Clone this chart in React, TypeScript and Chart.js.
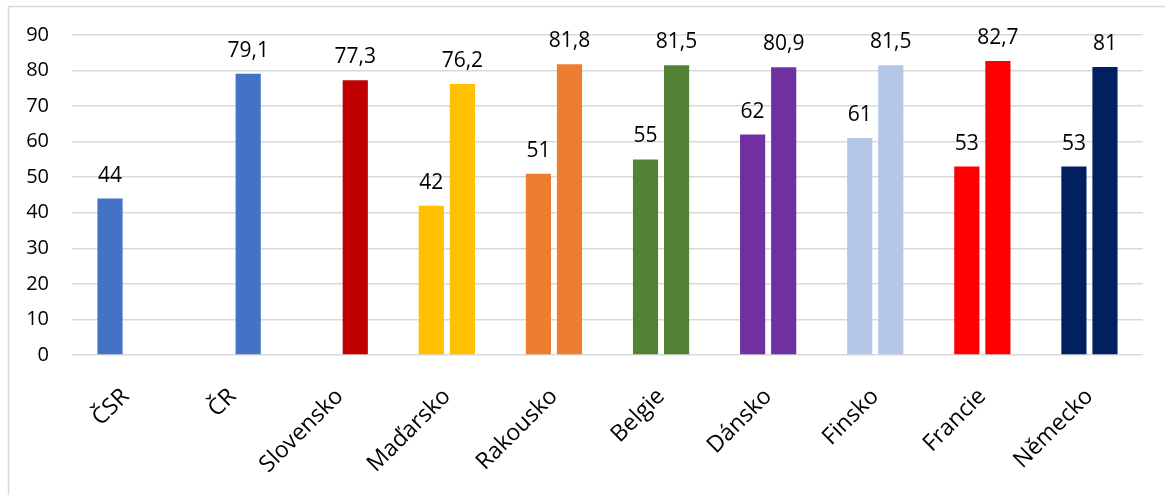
import React, { useEffect, useRef } from "react";
import { Chart, registerables } from "chart.js";

Chart.register(...registerables);

const categories = ["ČSR", "ČR", "Slovensko", "Maďarsko", "Rakousko", "Belgie", "Dánsko", "Finsko", "Francie", "Německo"];
const firstValues: (number | null)[] = [44, null, null, 42, 51, 55, 62, 61, 53, 53];
const secondValues: (number | null)[] = [null, 79.1, 77.3, 76.2, 81.8, 81.5, 80.9, 81.5, 82.7, 81];
const barColors = ["#4472C4", "#4472C4", "#C00000", "#FFC000", "#ED7D31", "#548235", "#7030A0", "#B4C7E7", "#FF0000", "#002060"];
const yTicks = [0, 10, 20, 30, 40, 50, 60, 70, 80, 90];

const FONT = "'Open Sans', sans-serif";

const labelPlugin = {
  id: "valueLabels",
  afterDatasetsDraw(chart: any) {
    const ctx = chart.ctx;
    ctx.save();
    ctx.font = `21px ${FONT}`;
    ctx.fillStyle = "#000";
    ctx.textAlign = "center";
    ctx.textBaseline = "alphabetic";
    chart.data.datasets.forEach((ds: any, di: number) => {
      const meta = chart.getDatasetMeta(di);
      meta.data.forEach((el: any, i: number) => {
        const v = ds.data[i];
        if (v === null || v === undefined) return;
        ctx.fillText(String(v).replace(".", ","), el.x, el.y - 17);
      });
    });
    ctx.restore();
  },
};

const borderPlugin = {
  id: "outerBorder",
  beforeDraw(chart: any) {
    const ctx = chart.ctx;
    ctx.save();
    ctx.strokeStyle = "#D9D9D9";
    ctx.lineWidth = 1.5;
    ctx.beginPath();
    ctx.moveTo(8.5, chart.height + 5);
    ctx.lineTo(8.5, 6.5);
    ctx.lineTo(chart.width + 5, 6.5);
    ctx.stroke();
    ctx.restore();
  },
};

export default function App() {
  const ref = useRef<HTMLCanvasElement | null>(null);
  useEffect(() => {
    if (!ref.current) return;
    const chart = new Chart(ref.current, {
      type: "bar",
      data: {
        labels: categories,
        datasets: [
          { data: firstValues, backgroundColor: barColors, categoryPercentage: 0.58, barPercentage: 0.81 },
          { data: secondValues, backgroundColor: barColors, categoryPercentage: 0.58, barPercentage: 0.81 },
        ],
      },
      options: {
        animation: false,
        responsive: true,
        maintainAspectRatio: false,
        layout: { padding: { left: 0, top: 35, right: 22, bottom: 0 } },
        plugins: { legend: { display: false }, tooltip: { enabled: false }, title: { display: false } },
        scales: {
          x: {
            grid: { display: false },
            border: { display: false },
            ticks: {
              color: "#000",
              font: { family: FONT, size: 23 },
              minRotation: 45,
              maxRotation: 45,
              padding: 20,
            },
            afterFit(scale: any) {
              scale.height = 140;
            },
          },
          y: {
            min: 0,
            max: 90,
            afterBuildTicks(scale: any) {
              scale.ticks = yTicks.map((v) => ({ value: v }));
            },
            grid: { color: "#D9D9D9", lineWidth: 1.5, drawTicks: false },
            border: { display: false },
            ticks: { color: "#000", font: { family: FONT, size: 20 }, padding: 23 },
            afterFit(scale: any) {
              scale.width = 72;
            },
          },
        },
      },
      plugins: [labelPlugin, borderPlugin],
    });
    return () => chart.destroy();
  }, []);
  return (
    <div style={{ position: "absolute", left: 0, top: 0, width: 1165, height: 495, background: "#fff" }}>
      <canvas ref={ref} />
    </div>
  );
}
